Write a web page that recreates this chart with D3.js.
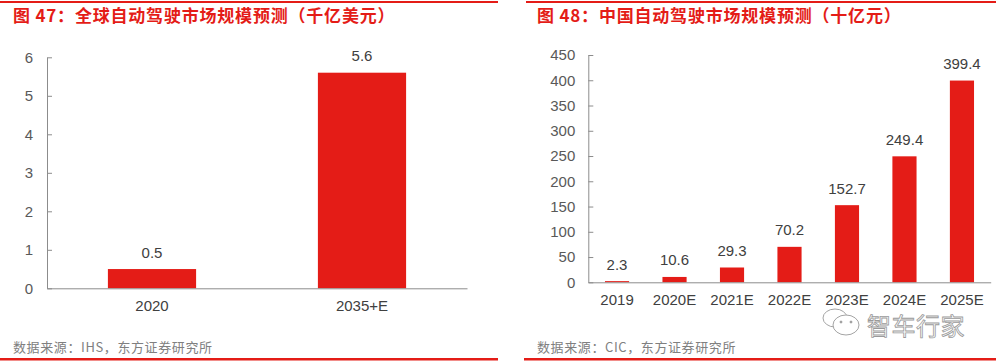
<!DOCTYPE html>
<html>
<head>
<meta charset="utf-8">
<script src="https://cdn.jsdelivr.net/npm/d3@7"></script>
<style>
  body { margin: 0; background: #fff; }
  svg { display: block; }
  text { font-family: "Liberation Sans", Arial, "Noto Sans CJK SC", sans-serif; }
  .cjk { font-family: "Noto Sans CJK SC", "Liberation Sans", sans-serif; }
</style>
</head>
<body>
<svg id="chart" width="996" height="364"></svg>
<script>
// left panel: global market, 千亿美元
const globalYears = ["2020", "2035+E"];
const globalValues = [0.5, 5.6];
const globalTicks = [0, 1, 2, 3, 4, 5, 6];

// right panel: China market, 十亿元
const chinaYears = ["2019", "2020E", "2021E", "2022E", "2023E", "2024E", "2025E"];
const chinaValues = [2.3, 10.6, 29.3, 70.2, 152.7, 249.4, 399.4];
const chinaTicks = [0, 50, 100, 150, 200, 250, 300, 350, 400, 450];

const red = "#e41c17";
const svg = d3.select("#chart");

function drawPanel(p) {
  const g = svg.append("g");

  // red rules top and bottom
  g.append("rect").attr("x", p.ruleX0).attr("y", 1).attr("width", p.ruleX1 - p.ruleX0).attr("height", 2).attr("fill", red);
  g.append("rect").attr("x", p.ruleX0b).attr("y", 358).attr("width", p.ruleX1 - p.ruleX0b).attr("height", 2.5).attr("fill", red);

  g.append("text").attr("class", "cjk")
    .attr("x", p.textX).attr("y", 22)
    .attr("fill", red).attr("font-size", 17).attr("font-weight", 700)
    .attr("letter-spacing", 0.8)
    .text(p.title);

  g.append("text").attr("class", "cjk")
    .attr("x", p.textX).attr("y", 352)
    .attr("fill", "#808080").attr("font-size", 13)
    .attr("letter-spacing", 0.6)
    .text(p.source);

  const x = d3.scaleBand().domain(p.cats).range([p.left, p.right]).paddingInner(0.58).paddingOuter(0.29);
  const y = d3.scaleLinear().domain([0, d3.max(p.ticks)]).range([p.bottom, p.top]);

  const yAxis = g.append("g")
    .attr("transform", `translate(${p.left},0)`)
    .call(d3.axisLeft(y).tickValues(p.ticks).tickFormat(d3.format("d"))
      .tickSizeInner(-5).tickSizeOuter(0).tickPadding(p.pad));
  yAxis.select(".domain").attr("stroke", "#8c8c8c");
  yAxis.selectAll(".tick line").attr("stroke", "#8c8c8c");
  yAxis.selectAll("text").attr("font-size", 15).attr("fill", "#595959")
    .attr("font-family", "Liberation Sans, Arial, sans-serif");

  g.selectAll(".bar").data(p.vals).enter().append("rect")
    .attr("x", (d, i) => x(p.cats[i]))
    .attr("y", d => y(d))
    .attr("width", x.bandwidth())
    .attr("height", d => p.bottom - y(d))
    .attr("fill", red);

  g.selectAll(".lbl").data(p.vals).enter().append("text")
    .attr("x", (d, i) => x(p.cats[i]) + x.bandwidth() / 2)
    .attr("y", d => y(d) - 11.5)
    .attr("text-anchor", "middle")
    .attr("font-size", 15).attr("fill", "#404040")
    .text(d => d);

  const xAxis = g.append("g")
    .attr("transform", `translate(0,${p.bottom})`)
    .call(d3.axisBottom(x).tickSize(0).tickPadding(12));
  xAxis.select(".domain").attr("stroke", "#8c8c8c");
  xAxis.selectAll("text").attr("font-size", 15).attr("fill", "#404040")
    .attr("font-family", "Liberation Sans, Arial, sans-serif");
}

drawPanel({
  title: "图 47：全球自动驾驶市场规模预测（千亿美元）",
  source: "数据来源：IHS，东方证券研究所",
  cats: globalYears, vals: globalValues, ticks: globalTicks,
  left: 47, right: 467, top: 57.3, bottom: 288.3, pad: 14,
  textX: 13, ruleX0: 0, ruleX0b: 0, ruleX1: 498
});

drawPanel({
  title: "图 48：中国自动驾驶市场规模预测（十亿元）",
  source: "数据来源：CIC，东方证券研究所",
  cats: chinaYears, vals: chinaValues, ticks: chinaTicks,
  left: 588.3, right: 990.7, top: 55, bottom: 282.3, pad: 13,
  textX: 537, ruleX0: 526, ruleX0b: 524, ruleX1: 996
});

// watermark
const wm = svg.append("g").attr("fill", "#fff").attr("stroke", "#9a9a9a").attr("stroke-width", 0.9);
wm.append("ellipse").attr("cx", 835).attr("cy", 318).attr("rx", 12).attr("ry", 9);
wm.append("ellipse").attr("cx", 846).attr("cy", 325).attr("rx", 13).attr("ry", 10);
wm.selectAll(".eye").data([[841, 322], [851, 322]]).enter().append("circle")
  .attr("cx", d => d[0]).attr("cy", d => d[1]).attr("r", 1).attr("fill", "#9a9a9a");
wm.append("text").attr("class", "cjk")
  .attr("x", 867).attr("y", 335)
  .attr("font-size", 24).attr("stroke-width", 0.8)
  .attr("letter-spacing", 0.5)
  .text("智车行家");
</script>
</body>
</html>
